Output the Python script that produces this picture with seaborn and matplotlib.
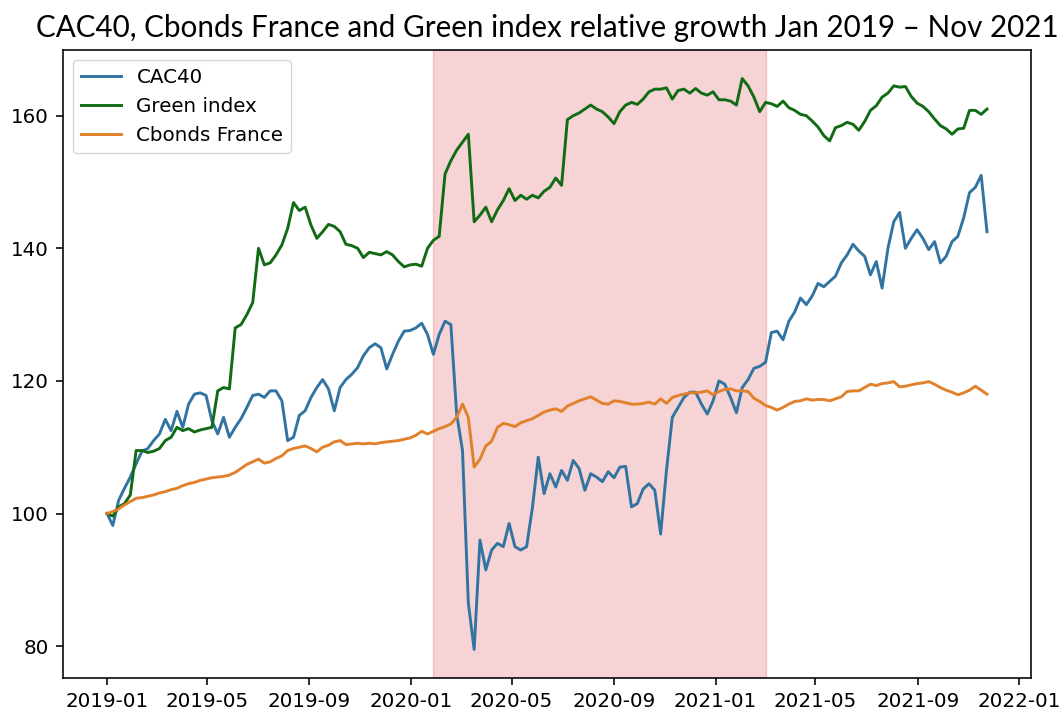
import pandas as pd
import matplotlib
matplotlib.use("Agg")
import matplotlib.pyplot as plt
import matplotlib.dates as mdates
import seaborn as sns

# ------------------------------------------------------------------
# Weekly values (base = 100 on 2019-01-01)
# ------------------------------------------------------------------
start_date = "2019-01-01"

cac40 = [
    100.0, 98.2, 102.0, 103.8, 105.5, 107.5, 109.4, 109.8, 111.0, 112.0,
    114.2, 112.5, 115.4, 113.0, 116.5, 118.0, 118.2, 117.8, 114.0, 112.0,
    114.5, 111.5, 113.0, 114.3, 116.0, 117.8, 118.0, 117.5, 118.5, 118.5,
    117.0, 111.0, 111.5, 114.8, 115.5, 117.5, 119.0, 120.2, 118.8, 115.5,
    119.0, 120.2, 121.0, 122.0, 123.8, 125.0, 125.6, 125.0, 121.8, 124.0,
    126.0, 127.5, 127.6, 128.0, 128.7, 127.0, 124.0, 127.0, 129.0, 128.5,
    115.0, 109.5, 86.5, 79.5, 96.0, 91.5, 94.5, 95.5, 95.0, 98.5,
    95.0, 94.5, 95.0, 100.9, 108.5, 103.0, 106.0, 104.0, 106.5, 105.0,
    108.0, 106.8, 103.5, 106.0, 105.5, 104.8, 106.3, 105.4, 107.0, 107.1,
    101.0, 101.5, 103.7, 104.5, 103.5, 96.9, 106.5, 114.5, 116.0, 117.5,
    118.3, 118.3, 116.5, 115.0, 117.0, 120.0, 119.5, 117.5, 115.2, 119.0,
    120.2, 121.9, 122.2, 122.8, 127.3, 127.5, 126.2, 129.0, 130.4, 132.5,
    131.5, 132.8, 134.7, 134.2, 135.0, 135.8, 137.8, 139.0, 140.6, 139.6,
    138.8, 136.0, 138.0, 134.0, 140.0, 144.0, 145.4, 140.0, 141.5, 142.8,
    141.5, 139.8, 141.0, 137.8, 138.8, 141.0, 141.8, 144.6, 148.4, 149.2,
    151.0, 142.5,
]

green_index = [
    100.0, 99.6, 101.0, 101.5, 102.8, 109.5, 109.5, 109.2, 109.4, 109.8,
    111.0, 111.5, 113.0, 112.5, 112.8, 112.3, 112.6, 112.8, 113.0, 118.5,
    119.0, 118.8, 128.0, 128.5, 130.0, 131.8, 140.0, 137.5, 137.8, 139.0,
    140.5, 143.0, 146.9, 145.7, 146.2, 143.5, 141.5, 142.5, 143.6, 143.3,
    142.5, 140.6, 140.4, 140.0, 138.6, 139.4, 139.2, 139.0, 139.5, 139.0,
    138.0, 137.2, 137.5, 137.6, 137.3, 140.0, 141.2, 141.8, 151.2, 153.2,
    154.8, 156.0, 157.2, 144.0, 145.0, 146.2, 144.0, 145.8, 147.2, 149.0,
    147.2, 148.0, 147.4, 148.0, 147.6, 148.6, 149.2, 150.6, 149.5, 159.4,
    160.0, 160.4, 161.0, 161.6, 161.0, 160.6, 159.8, 158.8, 160.6, 161.6,
    162.0, 161.7, 162.5, 163.6, 164.0, 164.0, 164.2, 162.5, 163.8, 164.0,
    163.4, 164.1, 163.4, 163.1, 163.6, 162.4, 162.4, 162.2, 161.6, 165.6,
    164.5, 162.8, 160.6, 162.0, 161.8, 161.4, 162.2, 161.2, 160.8, 160.2,
    160.0, 159.2, 158.3, 157.0, 156.2, 158.2, 158.5, 159.0, 158.7, 157.8,
    159.1, 160.8, 161.5, 162.8, 163.4, 164.5, 164.3, 164.4, 162.9, 161.9,
    161.4, 160.6, 159.5, 158.5, 158.0, 157.2, 158.0, 158.1, 160.8, 160.8,
    160.2, 161.0,
]

cbonds_france = [
    100.0, 100.3, 100.7, 101.3, 101.8, 102.3, 102.4, 102.6, 102.8, 103.1,
    103.3, 103.6, 103.8, 104.2, 104.5, 104.7, 105.0, 105.2, 105.4, 105.5,
    105.6, 105.8, 106.2, 106.8, 107.4, 107.8, 108.2, 107.6, 107.8, 108.3,
    108.7, 109.5, 109.8, 110.0, 110.2, 109.8, 109.3, 110.0, 110.3, 110.8,
    111.0, 110.4, 110.5, 110.6, 110.5, 110.6, 110.5, 110.7, 110.8, 110.9,
    111.0, 111.2, 111.4, 111.8, 112.4, 112.0, 112.4, 112.8, 113.1, 113.5,
    114.5, 116.5, 114.5, 107.0, 108.2, 110.2, 110.9, 113.0, 113.6, 113.4,
    113.1, 113.7, 114.0, 114.3, 114.8, 115.3, 115.6, 115.8, 115.4, 116.2,
    116.6, 117.0, 117.3, 117.6, 117.1, 116.6, 116.5, 117.0, 116.9, 116.7,
    116.5, 116.5, 116.6, 116.8, 116.5, 117.3, 116.6, 117.5, 117.8, 118.0,
    118.2, 118.2, 118.3, 118.5, 117.9, 118.4, 118.7, 118.8, 118.5, 118.5,
    118.4, 117.4, 116.9, 116.3, 116.0, 115.6, 116.0, 116.5, 116.9, 117.0,
    117.3, 117.1, 117.2, 117.2, 117.0, 117.3, 117.6, 118.4, 118.5, 118.5,
    119.0, 119.5, 119.3, 119.6, 119.7, 119.9, 119.1, 119.2, 119.4, 119.6,
    119.7, 119.9, 119.5, 119.0, 118.6, 118.3, 117.9, 118.2, 118.6, 119.2,
    118.6, 118.0,
]

# periodo de crisis sombreado
crisis_start = "2020-01-27"
crisis_end = "2021-03-03"

series_names = ["CAC40", "Green index", "Cbonds France"]
series_colors = ["#3274a1", "#116b14", "#e1812c"]

# ------------------------------------------------------------------
dates = pd.date_range(start_date, periods=len(cac40), freq="7D")
df = pd.DataFrame({"date": dates,
                   "CAC40": cac40,
                   "Green index": green_index,
                   "Cbonds France": cbonds_france})
df_long = df.melt(id_vars="date", var_name="index", value_name="value")

plt.rcParams.update({
    "font.size": 14.3,
    "axes.linewidth": 1.15,
    "xtick.major.size": 5,
    "ytick.major.size": 5,
    "xtick.major.width": 1.15,
    "ytick.major.width": 1.15,
    "xtick.major.pad": 5,
    "ytick.major.pad": 5,
})

fig = plt.figure(figsize=(10.59, 7.11), dpi=100)
ax = fig.add_axes([63 / 1059, 1 - 678 / 711, (1031 - 63) / 1059, (678 - 50) / 711])

ax.axvspan(pd.Timestamp(crisis_start), pd.Timestamp(crisis_end),
           color="tab:red", alpha=0.2, lw=1)

sns.lineplot(data=df_long, x="date", y="value", hue="index",
             hue_order=series_names,
             palette=dict(zip(series_names, series_colors)),
             linewidth=2.1, ax=ax)

ax.xaxis.set_major_locator(mdates.MonthLocator(bymonth=[1, 5, 9]))
ax.xaxis.set_major_formatter(mdates.DateFormatter("%Y-%m"))
ax.set_xlabel("")
ax.set_ylabel("")

handles, labels = ax.get_legend_handles_labels()
ax.legend(handles, labels, loc="upper left", title=None)

# Titulo (ajustado al ancho del original)
title = ax.set_title("CAC40, Cbonds France and Green index relative growth Jan 2019 \u2013 Nov 2021",
                     fontfamily=["Lato", "DejaVu Sans"], fontsize=22, pad=9)
fig.canvas.draw()
w = title.get_window_extent().width
title.set_fontsize(22 * 1017 / w)

fig.savefig("out.png", dpi=100)
